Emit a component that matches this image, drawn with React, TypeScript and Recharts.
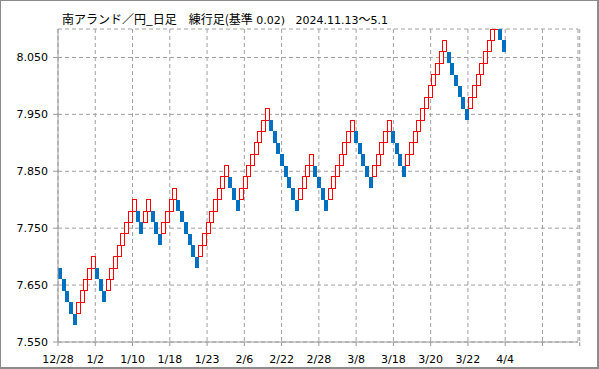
import { BarChart, Bar, Cell, XAxis, YAxis, CartesianGrid } from 'recharts';

// renko box size (基準 0.02)
const BOX = 0.02;

// bottom of each brick, left to right
const brickLow = [
  7.66, 7.64, 7.62, 7.6, 7.58,
  7.6, 7.62, 7.64, 7.66, 7.68,
  7.66, 7.64, 7.62,
  7.64, 7.66, 7.68, 7.7, 7.72, 7.74, 7.76, 7.78,
  7.76, 7.74,
  7.76, 7.78,
  7.76, 7.74, 7.72,
  7.74, 7.76, 7.78, 7.8,
  7.78, 7.76, 7.74, 7.72, 7.7, 7.68,
  7.7, 7.72, 7.74, 7.76, 7.78, 7.8, 7.82, 7.84,
  7.82, 7.8, 7.78,
  7.8, 7.82, 7.84, 7.86, 7.88, 7.9, 7.92, 7.94,
  7.92, 7.9, 7.88, 7.86, 7.84, 7.82, 7.8, 7.78,
  7.8, 7.82, 7.84, 7.86,
  7.84, 7.82, 7.8, 7.78,
  7.8, 7.82, 7.84, 7.86, 7.88, 7.9, 7.92,
  7.9, 7.88, 7.86, 7.84, 7.82,
  7.84, 7.86, 7.88, 7.9, 7.92,
  7.9, 7.88, 7.86, 7.84,
  7.86, 7.88, 7.9, 7.92, 7.94, 7.96, 7.98, 8.0, 8.02, 8.04, 8.06,
  8.04, 8.02, 8.0, 7.98, 7.96, 7.94,
  7.96, 7.98, 8.0, 8.02, 8.04, 8.06, 8.08, 8.1,
  8.08, 8.06,
];

// U = up brick (red outline), D = down brick (blue)
const brickDir = [
  'DDDDD', 'UUUUU', 'DDD', 'UUUUUUUU', 'DD', 'UU', 'DDD', 'UUUU',
  'DDDDDD', 'UUUUUUUU', 'DDD', 'UUUUUUUU', 'DDDDDDDD', 'UUUU', 'DDDD',
  'UUUUUUU', 'DDDDD', 'UUUUU', 'DDDD', 'UUUUUUUUUUU', 'DDDDDD', 'UUUUUUUU', 'DD',
].join('');

const xLabels = ['12/28', '1/2', '1/10', '1/18', '1/23', '2/6', '2/22', '2/28', '3/8', '3/18', '3/20', '3/22', '4/4', '', ''];
const yTicks = [7.55, 7.65, 7.75, 7.85, 7.95, 8.05];

const COLS = 140;
const xTicks = xLabels.map((_, k) => k * 10);

const data = Array.from({ length: COLS }, (_, i) => {
  const lo = brickLow[i];
  return {
    i,
    range: lo === undefined ? null : [lo, +(lo + BOX).toFixed(2)],
    up: brickDir[i] === 'U',
  };
});

const GRID = '#a0a0a0';
const AXIS = '#999999';
const tickFont = { fontSize: 11, fill: '#000', fontFamily: 'DejaVu Sans' };
const pad = { left: 0, right: 2 };

export default function App() {
  return (
    <div style={{ position: 'absolute', left: 0, top: 0, width: 599, height: 369, background: '#fff' }}>
      <div
        style={{
          position: 'absolute',
          left: 62,
          top: 10,
          whiteSpace: 'pre',
          color: '#000',
          lineHeight: '18px',
        }}
      >
        <span style={{ fontFamily: 'Noto Sans CJK JP', fontSize: 12 }}>南アランド／円_日足　練行足(基準</span>
        <span style={{ fontFamily: 'DejaVu Sans', fontSize: 11 }}> 0.02)   2024.11.13</span>
        <span style={{ fontFamily: 'Noto Sans CJK JP', fontSize: 12 }}>～</span>
        <span style={{ fontFamily: 'DejaVu Sans', fontSize: 11 }}>5.1</span>
      </div>
      <BarChart
        width={599}
        height={369}
        data={data}
        margin={{ top: 29, right: 21, bottom: 0, left: 0 }}
        barCategoryGap={0}
        barGap={0}
        style={{ position: 'absolute', left: 0, top: 0 }}
      >
        <CartesianGrid xAxisId="num" stroke={GRID} strokeDasharray="4 3" />
        <XAxis
          xAxisId="num"
          type="number"
          domain={[0, COLS]}
          ticks={xTicks}
          allowDataOverflow
          padding={pad}
          height={27}
          tickSize={4}
          tickMargin={9}
          tickFormatter={(v: number) => xLabels[v / 10] ?? ''}
          tick={tickFont}
          axisLine={{ stroke: AXIS }}
          tickLine={{ stroke: AXIS }}
        />
        <XAxis xAxisId="cat" dataKey="i" type="category" hide height={0} padding={pad} />
        <XAxis xAxisId="top" orientation="top" height={0} tick={false} tickLine={false} axisLine={{ stroke: AXIS }} />
        <YAxis
          type="number"
          domain={[7.55, 8.1]}
          ticks={yTicks}
          allowDataOverflow
          width={58}
          tickSize={5}
          tickMargin={5}
          tickFormatter={(v: number) => v.toFixed(3)}
          tick={tickFont}
          axisLine={{ stroke: AXIS }}
          tickLine={{ stroke: AXIS }}
        />
        <YAxis yAxisId="r" orientation="right" width={0} tick={false} tickLine={false} axisLine={{ stroke: AXIS }} />
        <Bar xAxisId="cat" dataKey="range" isAnimationActive={false} shapeRendering="crispEdges">
          {data.map((d) => (
            <Cell
              key={d.i}
              fill={d.up ? '#ffffff' : '#0070c0'}
              stroke={d.up ? '#ff0000' : 'none'}
              strokeWidth={1}
            />
          ))}
        </Bar>
      </BarChart>
      <div
        style={{
          position: 'absolute',
          left: 0,
          top: 0,
          width: 599,
          height: 369,
          boxSizing: 'border-box',
          borderTop: '1px solid #8c8c8c',
          borderLeft: '1px solid #8c8c8c',
          borderRight: '2px solid #8c8c8c',
          borderBottom: '2px solid #8c8c8c',
          pointerEvents: 'none',
        }}
      />
    </div>
  );
}
